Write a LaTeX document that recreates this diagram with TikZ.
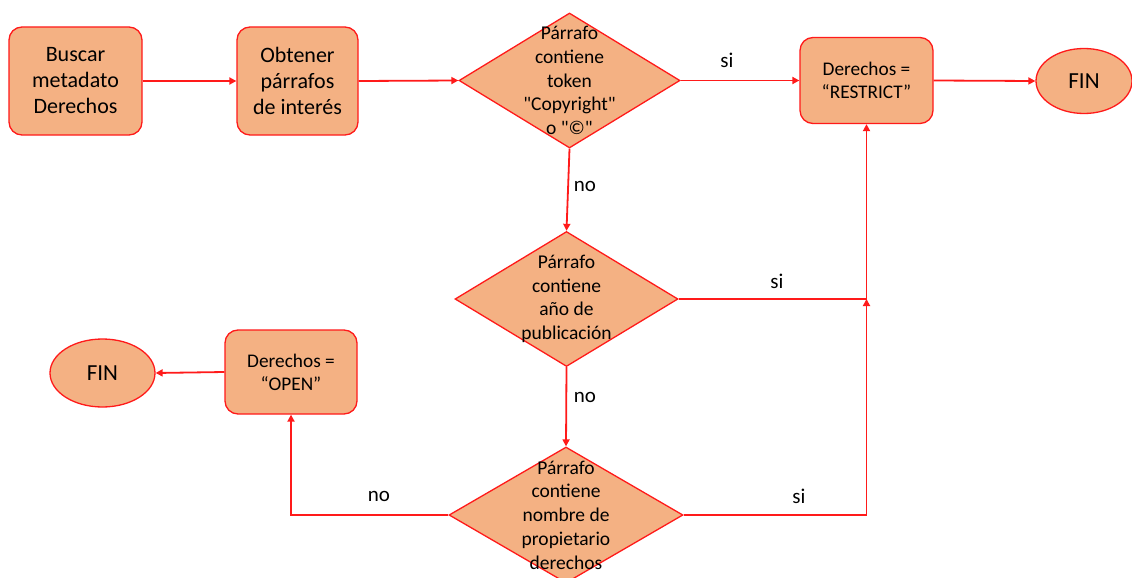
\documentclass[tikz,border=0pt]{standalone}
\usepackage{fontspec}
\setmainfont{Carlito}
% same face without the TeX ligature mapping, so " stays a straight quote
\newfontfamily\plainface{Carlito}
\usetikzlibrary{shapes.geometric,arrows.meta}
\definecolor{peach}{HTML}{F4B183}
\definecolor{flowred}{HTML}{FF1A1A}
\newcommand{\dq}{{\plainface"}}
\begin{document}
\begin{tikzpicture}[x=1pt,y=-1pt,
  box/.style={draw=flowred,fill=peach,line width=1.3pt,rounded corners=13pt,
    align=center,inner sep=0pt,font=\fontsize{22}{26}\selectfont},
  smallbox/.style={box,font=\fontsize{19.3}{23}\selectfont},
  decision/.style={draw=flowred,fill=peach,line width=1.3pt,diamond,inner sep=0pt},
  dtext/.style={align=center,font=\fontsize{19.5}{23.7}\selectfont},
  terminal/.style={draw=flowred,fill=peach,line width=1.3pt,ellipse,inner sep=0pt,
    font=\fontsize{23}{26}\selectfont},
  flow/.style={draw=flowred,line width=1.8pt,-{Triangle[length=7pt,width=7pt]}},
  tag/.style={font=\fontsize{21}{24}\selectfont}]
  \fill[white] (0,0) rectangle (1132,578);
  \useasboundingbox (0,0) rectangle (1132,578);

  % process boxes
  \node[box,minimum width=133pt,minimum height=108pt] (b1) at (75.5,81)
    {Buscar\\metadato\\Derechos};
  \node[box,minimum width=121pt,minimum height=108pt] (b2) at (297.5,81)
    {Obtener\\párrafos\\de interés};
  \node[smallbox,minimum width=133pt,minimum height=86pt] (b3) at (866.5,80.5)
    {Derechos =\\“RESTRICT”};
  \node[smallbox,minimum width=132pt,minimum height=84pt] (b4) at (291,372)
    {Derechos =\\“OPEN”};

  % end points
  \node[terminal,minimum width=96pt,minimum height=65pt] (f1) at (1084,81) {FIN};
  \node[terminal,minimum width=105pt,minimum height=68pt] (f2) at (102.5,373) {FIN};

  % decisions
  \node[decision,minimum width=221pt,minimum height=135pt,
    label={[dtext]center:Párrafo\\contiene\\token\\\dq Copyright\dq\\o \dq©\dq}] (d1) at (569.5,80.5) {};
  \node[decision,minimum width=223pt,minimum height=135pt,
    label={[dtext]center:Párrafo\\contiene\\año de\\publicación}] (d2) at (566.5,299) {};
  \node[decision,minimum width=234pt,minimum height=136pt,
    label={[dtext]center:Párrafo\\contiene\\nombre de\\propietario\\derechos}] (d3) at (566,515) {};

  % junction below the RESTRICT box
  \coordinate (j) at (b3.south |- d2.east);

  % connectors
  \draw[flow] (b1.east) -- (b2.west);
  \draw[flow] (b2.east) -- (d1.west);
  \draw[flow] (d1.east) -- (b3.west);
  \draw[flow] (b3.east) -- (f1.west);
  \draw[flow] (d1.south) -- (d2.north);
  \draw[flow] (d2.east) -| (b3.south);
  \draw[flow] (d2.south) -- (d3.north);
  \draw[flow] (d3.east) -| (j);
  \draw[flow] (d3.west) -| (b4.south);
  \draw[flow] (b4.west) -- (f2.east);

  % branch labels
  \node[tag] (s1) at (727,60) {si};
  \node[tag] (n1) at (585,186) {no};
  \node[tag] (s2) at (777,281) {si};
  \node[tag] (n2) at (585,397) {no};
  \node[tag] (s3) at (799,496) {si};
  \node[tag] (n3) at (379,496) {no};
\end{tikzpicture}
\end{document}
